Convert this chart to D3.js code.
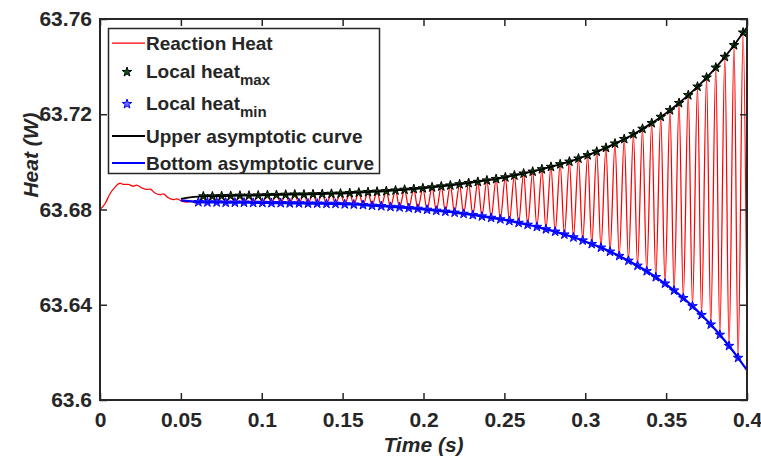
<!DOCTYPE html>
<html>
<head>
<meta charset="utf-8">
<script src="https://cdn.jsdelivr.net/npm/d3@7"></script>
<style>
  body { margin: 0; background: #fff; }
  svg text { font-family: "Liberation Sans", Arial, sans-serif; font-weight: bold; fill: #262626; }
</style>
</head>
<body>
<div id="main"></div>
<script>
// start-up part of the reaction heat, before the oscillation
const transientT = [0, 0.0031, 0.0062, 0.0093, 0.0124, 0.0144, 0.0175, 0.0206, 0.0227, 0.0258, 0.0289, 0.0309,
  0.0340, 0.0371, 0.0391, 0.0422, 0.0453, 0.0474, 0.0505, 0.0536, 0.0567, 0.0587];
const transientHeat = [63.6800, 63.6824, 63.6866, 63.6894, 63.6911, 63.6905, 63.6905, 63.6898, 63.6902, 63.6891, 63.6884, 63.6886,
  63.6869, 63.6862, 63.6866, 63.6849, 63.6841, 63.6845, 63.6835, 63.6831, 63.6835, 63.6828];

// local maxima (black stars)
const maxT = [0.0639, 0.0695, 0.0752, 0.0808, 0.0865, 0.0921, 0.0978, 0.1035, 0.1091, 0.1148,
  0.1204, 0.1261, 0.1317, 0.1374, 0.1431, 0.1487, 0.1544, 0.1600, 0.1657, 0.1713,
  0.1770, 0.1827, 0.1883, 0.1940, 0.1996, 0.2053, 0.2110, 0.2166, 0.2223, 0.2279,
  0.2336, 0.2392, 0.2449, 0.2506, 0.2562, 0.2619, 0.2675, 0.2732, 0.2788, 0.2845,
  0.2902, 0.2958, 0.3015, 0.3071, 0.3128, 0.3184, 0.3241, 0.3298, 0.3354, 0.3411,
  0.3467, 0.3524, 0.3580, 0.3637, 0.3694, 0.3750, 0.3807, 0.3863, 0.3920, 0.3976];
const maxHeat = [63.6855, 63.6855, 63.6856, 63.6857, 63.6858, 63.6858, 63.6859, 63.6860, 63.6861, 63.6862,
  63.6863, 63.6863, 63.6864, 63.6865, 63.6866, 63.6867, 63.6869, 63.6871, 63.6873, 63.6875,
  63.6877, 63.6880, 63.6883, 63.6886, 63.6889, 63.6893, 63.6897, 63.6901, 63.6906, 63.6911,
  63.6916, 63.6922, 63.6928, 63.6935, 63.6943, 63.6951, 63.6959, 63.6969, 63.6979, 63.6990,
  63.7001, 63.7014, 63.7028, 63.7043, 63.7059, 63.7077, 63.7096, 63.7116, 63.7139, 63.7163,
  63.7189, 63.7217, 63.7247, 63.7280, 63.7316, 63.7354, 63.7396, 63.7441, 63.7490, 63.7543];

// local minima (blue stars)
const minT = [0.0608, 0.0664, 0.0721, 0.0777, 0.0834, 0.0890, 0.0947, 0.1004, 0.1060, 0.1117,
  0.1173, 0.1230, 0.1286, 0.1343, 0.1400, 0.1456, 0.1513, 0.1569, 0.1626, 0.1682,
  0.1739, 0.1796, 0.1852, 0.1909, 0.1965, 0.2022, 0.2079, 0.2135, 0.2192, 0.2248,
  0.2305, 0.2361, 0.2418, 0.2475, 0.2531, 0.2588, 0.2644, 0.2701, 0.2757, 0.2814,
  0.2871, 0.2927, 0.2984, 0.3040, 0.3097, 0.3153, 0.3210, 0.3267, 0.3323, 0.3380,
  0.3436, 0.3493, 0.3549, 0.3606, 0.3663, 0.3719, 0.3776, 0.3832, 0.3889, 0.3945];
const minHeat = [63.6831, 63.6830, 63.6830, 63.6829, 63.6829, 63.6829, 63.6828, 63.6828, 63.6827, 63.6827,
  63.6826, 63.6826, 63.6825, 63.6825, 63.6824, 63.6824, 63.6822, 63.6821, 63.6819, 63.6816,
  63.6814, 63.6811, 63.6809, 63.6806, 63.6803, 63.6799, 63.6795, 63.6791, 63.6787, 63.6782,
  63.6777, 63.6771, 63.6765, 63.6759, 63.6752, 63.6744, 63.6736, 63.6727, 63.6717, 63.6707,
  63.6695, 63.6683, 63.6670, 63.6655, 63.6640, 63.6623, 63.6605, 63.6585, 63.6564, 63.6541,
  63.6516, 63.6489, 63.6460, 63.6428, 63.6394, 63.6357, 63.6317, 63.6274, 63.6227, 63.6177];

// reaction heat value at the right edge (t = 0.4)
const endT = [0.4];
const endHeat = [63.625];

// ends of the asymptotic curves
const curveEndT = [0.05, 0.4];
const upperEndHeat = [63.6845, 63.7565];
const bottomEndHeat = [63.6838, 63.6125];

const xTicks = [0, 0.05, 0.1, 0.15, 0.2, 0.25, 0.3, 0.35, 0.4];
const yTicks = [63.6, 63.64, 63.68, 63.72, 63.76];
const xTickLabels = ["0", "0.05", "0.1", "0.15", "0.2", "0.25", "0.3", "0.35", "0.4"];
const yTickLabels = ["63.6", "63.64", "63.68", "63.72", "63.76"];

const legendItems = ["Reaction Heat", "Local heat", "Local heat", "Upper asymptotic curve", "Bottom asymptotic curve"];
const legendSubs = ["", "max", "min", "", ""];

const w = 761;
const h = 459;
const margin = { top: 19, right: 14, bottom: 59, left: 100 };

const x = d3.scaleLinear().domain([0, 0.4]).range([margin.left, w - margin.right]);
const y = d3.scaleLinear().domain([63.6, 63.76]).range([h - margin.bottom, margin.top]);

const svg = d3.select("#main").append("svg")
  .attr("width", w)
  .attr("height", h);

svg.append("defs").append("clipPath")
  .attr("id", "plotclip")
  .append("rect")
  .attr("x", margin.left)
  .attr("y", margin.top)
  .attr("width", w - margin.left - margin.right)
  .attr("height", h - margin.top - margin.bottom);

// build the series
const reaction = transientT.map((t, i) => [t, transientHeat[i]]);
minT.forEach((t, i) => {
  reaction.push([t, minHeat[i]]);
  reaction.push([maxT[i], maxHeat[i]]);
});
endT.forEach((t, i) => reaction.push([t, endHeat[i]]));

const maxPts = maxT.map((t, i) => [t, maxHeat[i]]);
const minPts = minT.map((t, i) => [t, minHeat[i]]);
const upper = [[curveEndT[0], upperEndHeat[0]]].concat(maxPts, [[curveEndT[1], upperEndHeat[1]]]);
const bottom = [[curveEndT[0], bottomEndHeat[0]]].concat(minPts, [[curveEndT[1], bottomEndHeat[1]]]);

const line = d3.line()
  .x(d => x(d[0]))
  .y(d => y(d[1]))
  .curve(d3.curveMonotoneX);

const plot = svg.append("g").attr("clip-path", "url(#plotclip)");

plot.append("path")
  .datum(reaction)
  .attr("fill", "none")
  .attr("stroke", "#ff0000")
  .attr("stroke-width", 1.25)
  .attr("d", line);

const star = d3.symbol().type(d3.symbolStar).size(28);

plot.selectAll(".maxstar")
  .data(maxPts)
  .enter()
  .append("path")
  .attr("class", "maxstar")
  .attr("transform", d => "translate(" + x(d[0]) + "," + y(d[1]) + ")")
  .attr("d", star)
  .attr("fill", "#0b5a0b")
  .attr("stroke", "#000")
  .attr("stroke-width", 1);

plot.selectAll(".minstar")
  .data(minPts)
  .enter()
  .append("path")
  .attr("class", "minstar")
  .attr("transform", d => "translate(" + x(d[0]) + "," + y(d[1]) + ")")
  .attr("d", star)
  .attr("fill", "#3a3aff")
  .attr("stroke", "#0000ff")
  .attr("stroke-width", 1);

plot.append("path")
  .datum(upper)
  .attr("fill", "none")
  .attr("stroke", "#000")
  .attr("stroke-width", 1.8)
  .attr("d", line);

plot.append("path")
  .datum(bottom)
  .attr("fill", "none")
  .attr("stroke", "#0000ff")
  .attr("stroke-width", 2.2)
  .attr("d", line);

// axes: box with inward ticks on all four sides
const tickLen = 7;
const xAxis = d3.axisBottom(x).tickValues(xTicks).tickSizeInner(-tickLen).tickSizeOuter(0)
  .tickFormat((d, i) => xTickLabels[i]).tickPadding(12);
const xAxisTop = d3.axisTop(x).tickValues(xTicks).tickSizeInner(-tickLen).tickSizeOuter(0).tickFormat("");
const yAxis = d3.axisLeft(y).tickValues(yTicks).tickSizeInner(-tickLen).tickSizeOuter(0)
  .tickFormat((d, i) => yTickLabels[i]).tickPadding(8);
const yAxisRight = d3.axisRight(y).tickValues(yTicks).tickSizeInner(-tickLen).tickSizeOuter(0).tickFormat("");

const gx = svg.append("g").attr("transform", "translate(0," + (h - margin.bottom) + ")").call(xAxis);
const gxt = svg.append("g").attr("transform", "translate(0," + margin.top + ")").call(xAxisTop);
const gy = svg.append("g").attr("transform", "translate(" + margin.left + ",0)").call(yAxis);
const gyr = svg.append("g").attr("transform", "translate(" + (w - margin.right) + ",0)").call(yAxisRight);

[gx, gxt, gy, gyr].forEach(g => {
  g.select(".domain").remove();
  g.selectAll(".tick line").attr("stroke", "#262626").attr("stroke-width", 1.5);
  g.selectAll("text").attr("font-size", 21).attr("fill", "#262626")
    .style("font-family", '"Liberation Sans", Arial, sans-serif').style("font-weight", "bold");
});
gx.selectAll("text").attr("dy", "0.71em");

svg.append("rect")
  .attr("x", margin.left)
  .attr("y", margin.top)
  .attr("width", w - margin.left - margin.right)
  .attr("height", h - margin.top - margin.bottom)
  .attr("fill", "none")
  .attr("stroke", "#262626")
  .attr("stroke-width", 2);

// axis titles
svg.append("text")
  .attr("x", (margin.left + w - margin.right) / 2)
  .attr("y", 452)
  .attr("text-anchor", "middle")
  .attr("font-size", 21)
  .style("font-style", "italic")
  .text("Time (s)");

svg.append("text")
  .attr("transform", "translate(38,155) rotate(-90)")
  .attr("text-anchor", "middle")
  .attr("font-size", 21)
  .style("font-style", "italic")
  .text("Heat (W)");

// legend
const legend = svg.append("g");
legend.append("rect")
  .attr("x", 108.5)
  .attr("y", 28.5)
  .attr("width", 271)
  .attr("height", 145)
  .attr("fill", "#fff")
  .attr("stroke", "#262626")
  .attr("stroke-width", 1.5);

const rowY = [43, 71, 103, 136, 163];
legendItems.forEach((label, i) => {
  const ry = rowY[i];
  if (i === 0 || i === 3 || i === 4) {
    legend.append("line")
      .attr("x1", 112).attr("x2", 145)
      .attr("y1", ry).attr("y2", ry)
      .attr("stroke", i === 0 ? "#ff0000" : (i === 3 ? "#000" : "#0000ff"))
      .attr("stroke-width", i === 0 ? 1.25 : (i === 3 ? 1.8 : 2.2));
  } else {
    legend.append("path")
      .attr("transform", "translate(127," + (ry + 1) + ")")
      .attr("d", star)
      .attr("fill", i === 1 ? "#0b5a0b" : "#6f6fff")
      .attr("stroke", i === 1 ? "#000" : "#0000ff")
      .attr("stroke-width", 1);
  }
  const t = legend.append("text")
    .attr("x", 146)
    .attr("y", ry + 7)
    .attr("font-size", 19)
    .text(label);
  if (legendSubs[i]) {
    t.append("tspan")
      .attr("dy", 7)
      .attr("font-size", 15)
      .text(legendSubs[i]);
  }
});
</script>
</body>
</html>
